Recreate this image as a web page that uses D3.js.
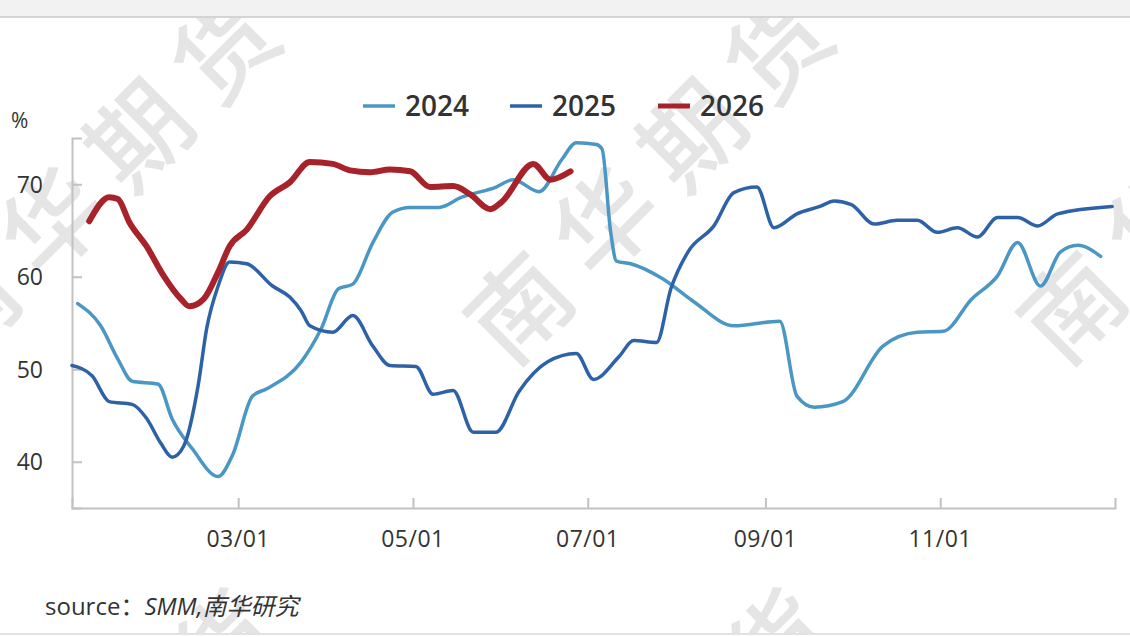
<!DOCTYPE html>
<html>
<head>
<meta charset="utf-8">
<script src="https://cdn.jsdelivr.net/npm/d3@7"></script>
<style>
	body { margin: 0; background: #fff; }
	svg { display: block; font-family: "Open Sans", "Noto Sans CJK SC", sans-serif; }
</style>
</head>
<body>
<div id="chart"></div>
<script>
	// data (MM-DD, %)
	var dates24 = ["01-04","01-12","01-18","01-23","02-01","02-06","02-13","02-22","02-27","03-06","03-11","03-23","03-30","04-05","04-10","04-17","04-24","04-30","05-10","05-18","05-30","06-05","06-14","06-22","06-27","07-04","07-06","07-09","07-11","07-16","07-27","08-07","08-21","09-06","09-12","09-18","09-28","10-12","10-24","11-02","11-12","11-21","11-28","12-06","12-13","12-19","12-27"];
	var values24 = [57.1,54.7,51.1,48.7,48.4,44.6,41.4,38.4,40.7,47.1,47.9,50.8,54.4,58.7,59.2,63.7,67.0,67.5,67.5,68.6,69.7,70.5,69.2,72.7,74.5,74.3,73.8,64.8,61.7,61.4,59.8,57.3,54.7,55.2,47.1,45.9,46.5,52.5,54.0,54.1,57.6,60.1,63.7,59.0,62.7,63.4,62.2];

	var dates25 = ["01-02","01-09","01-15","01-23","01-28","02-02","02-06","02-10","02-15","02-18","02-22","02-26","03-04","03-13","03-19","03-23","03-26","04-03","04-10","04-17","04-23","05-02","05-08","05-15","05-22","05-30","06-07","06-17","06-27","07-03","07-12","07-17","07-25","07-30","08-05","08-14","08-21","08-29","09-04","09-12","09-20","09-25","10-01","10-09","10-17","10-24","10-31","11-07","11-14","11-21","11-28","12-05","12-12","12-31"];
	var values25 = [50.4,49.3,46.5,46.2,44.7,42.0,40.5,41.7,48.2,54.4,59.0,61.6,61.4,59.0,57.8,56.3,54.7,54.0,55.8,52.5,50.4,50.3,47.3,47.7,43.2,43.2,47.6,50.8,51.7,48.9,51.4,53.1,52.9,58.7,62.7,65.5,69.1,69.7,65.3,66.8,67.6,68.2,67.8,65.7,66.1,66.1,64.8,65.3,64.3,66.4,66.4,65.5,66.8,67.6];

	var dates26 = ["01-08","01-15","01-18","01-22","01-28","02-03","02-09","02-12","02-17","02-22","02-26","03-04","03-12","03-19","03-26","04-03","04-09","04-16","04-23","04-30","05-07","05-15","05-21","05-28","06-01","06-12","06-18","06-25"];
	var values26 = [66.0,68.6,68.4,65.9,63.3,60.1,57.6,56.8,57.6,60.5,63.3,65.1,68.7,70.2,72.4,72.2,71.5,71.3,71.6,71.4,69.7,69.8,68.9,67.3,68.1,72.2,70.5,71.4];

	var seriesNames = ["2024", "2025", "2026"];
	var seriesColors = ["#4a97c4", "#2d62a7", "#a8222a"];
	var seriesWidths = [3.5, 3.5, 6];
	var yTicks = [40, 50, 60, 70];
	var xTicks = ["03-01", "05-01", "07-01", "09-01", "11-01"];

	var width = 1130, height = 637;
	var parse = function(s) { return d3.timeParse("%Y-%m-%d")("2025-" + s); };

	var series = [
		{ name: "2024", points: dates24.map(function(d, i) { return { date: parse(d), value: values24[i] }; }) },
		{ name: "2025", points: dates25.map(function(d, i) { return { date: parse(d), value: values25[i] }; }) },
		{ name: "2026", points: dates26.map(function(d, i) { return { date: parse(d), value: values26[i] }; }) }
	];

	var svg = d3.select("#chart").append("svg")
		.attr("width", width)
		.attr("height", height);

	// frame bands
	svg.append("rect").attr("x", 0).attr("y", 0).attr("width", width).attr("height", 16).attr("fill", "#f2f2f2");
	svg.append("line").attr("x1", 0).attr("x2", width).attr("y1", 17).attr("y2", 17)
		.attr("stroke", "#d4d4d4").attr("stroke-width", 2);
	svg.append("line").attr("x1", 0).attr("x2", width).attr("y1", 634).attr("y2", 634)
		.attr("stroke", "#e2e2e2").attr("stroke-width", 2);

	// watermark
	svg.append("clipPath").attr("id", "wm-clip")
		.append("rect").attr("x", 0).attr("y", 18).attr("width", width).attr("height", 615);
	var wm = svg.append("g").attr("clip-path", "url(#wm-clip)");
	var wmCenters = [];
	[105, 658, 1211].forEach(function(cx) {
		[172, 768].forEach(function(cy) { wmCenters.push([cx, cy]); });
	});
	wm.selectAll("text")
		.data(wmCenters)
		.enter().append("text")
		.attr("transform", function(d) { return "translate(" + d[0] + "," + d[1] + ") rotate(-45)"; })
		.attr("text-anchor", "middle")
		.attr("dy", "0.35em")
		.attr("font-family", "Noto Sans CJK SC")
		.attr("font-size", 100)
		.attr("font-weight", 500)
		.attr("letter-spacing", 22)
		.attr("fill", "#e5e5e5")
		.text("南华期货");

	// scales
	var x = d3.scaleTime()
		.domain([parse("01-02"), d3.timeParse("%Y-%m-%d")("2026-01-01")])
		.range([72, 1115]);

	var y = d3.scaleLinear()
		.domain([35, 75])
		.range([508, 138]);

	var axisColor = "#c2c2c2";

	// y axis
	var yAxis = svg.append("g")
		.attr("transform", "translate(72,0)")
		.call(d3.axisRight(y).tickValues(yTicks).tickSize(10).tickFormat(""));
	yAxis.select(".domain").attr("stroke", axisColor).attr("stroke-width", 2);
	yAxis.selectAll(".tick line").attr("stroke", axisColor).attr("stroke-width", 2);

	svg.selectAll(".ylab")
		.data(yTicks)
		.enter().append("text")
		.attr("class", "ylab")
		.attr("x", 43)
		.attr("y", function(d) { return y(d); })
		.attr("dy", "0.36em")
		.attr("text-anchor", "end")
		.attr("font-size", 23)
		.attr("fill", "#333")
		.text(function(d) { return d; });

	svg.append("text")
		.attr("x", 11).attr("y", 128)
		.attr("font-size", 21)
		.attr("fill", "#333")
		.text("%");

	// x axis
	var xAxis = svg.append("g")
		.attr("transform", "translate(0,508)")
		.call(d3.axisTop(x).tickValues(xTicks.map(parse)).tickSize(10).tickFormat(""));
	xAxis.select(".domain").attr("stroke", axisColor).attr("stroke-width", 2);
	xAxis.selectAll(".tick line").attr("stroke", axisColor).attr("stroke-width", 2);

	svg.selectAll(".xlab")
		.data(xTicks)
		.enter().append("text")
		.attr("class", "xlab")
		.attr("x", function(d) { return x(parse(d)); })
		.attr("y", 547)
		.attr("text-anchor", "middle")
		.attr("font-size", 23)
		.attr("letter-spacing", 0.5)
		.attr("fill", "#333")
		.text(function(d) { return d.replace("-", "/"); });

	// lines
	var line = d3.line()
		.x(function(d) { return x(d.date); })
		.y(function(d) { return y(d.value); })
		.curve(d3.curveMonotoneX);

	svg.selectAll(".series")
		.data(series)
		.enter().append("path")
		.attr("class", "series")
		.attr("fill", "none")
		.attr("stroke", function(d, i) { return seriesColors[i]; })
		.attr("stroke-width", function(d, i) { return seriesWidths[i]; })
		.attr("stroke-linejoin", "round")
		.attr("stroke-linecap", "round")
		.attr("d", function(d) { return line(d.points); });

	// legend
	var legendX = [363, 510, 658];
	var legend = svg.selectAll(".legend")
		.data(seriesNames)
		.enter().append("g")
		.attr("class", "legend")
		.attr("transform", function(d, i) { return "translate(" + legendX[i] + ",106)"; });
	legend.append("line")
		.attr("x1", 0).attr("x2", 32)
		.attr("stroke", function(d, i) { return seriesColors[i]; })
		.attr("stroke-width", function(d, i) { return i == 2 ? 5 : 3.5; });
	legend.append("text")
		.attr("x", 42)
		.attr("dy", "0.36em")
		.attr("font-size", 28)
		.attr("font-weight", 600)
		.attr("fill", "#333")
		.text(function(d) { return d; });

	// source
	var src = svg.append("text")
		.attr("x", 45).attr("y", 615)
		.attr("font-size", 24)
		.attr("fill", "#333");
	src.append("tspan").text("source：");
	src.append("tspan").attr("font-style", "italic").text("SMM,南华研究");
</script>
</body>
</html>
